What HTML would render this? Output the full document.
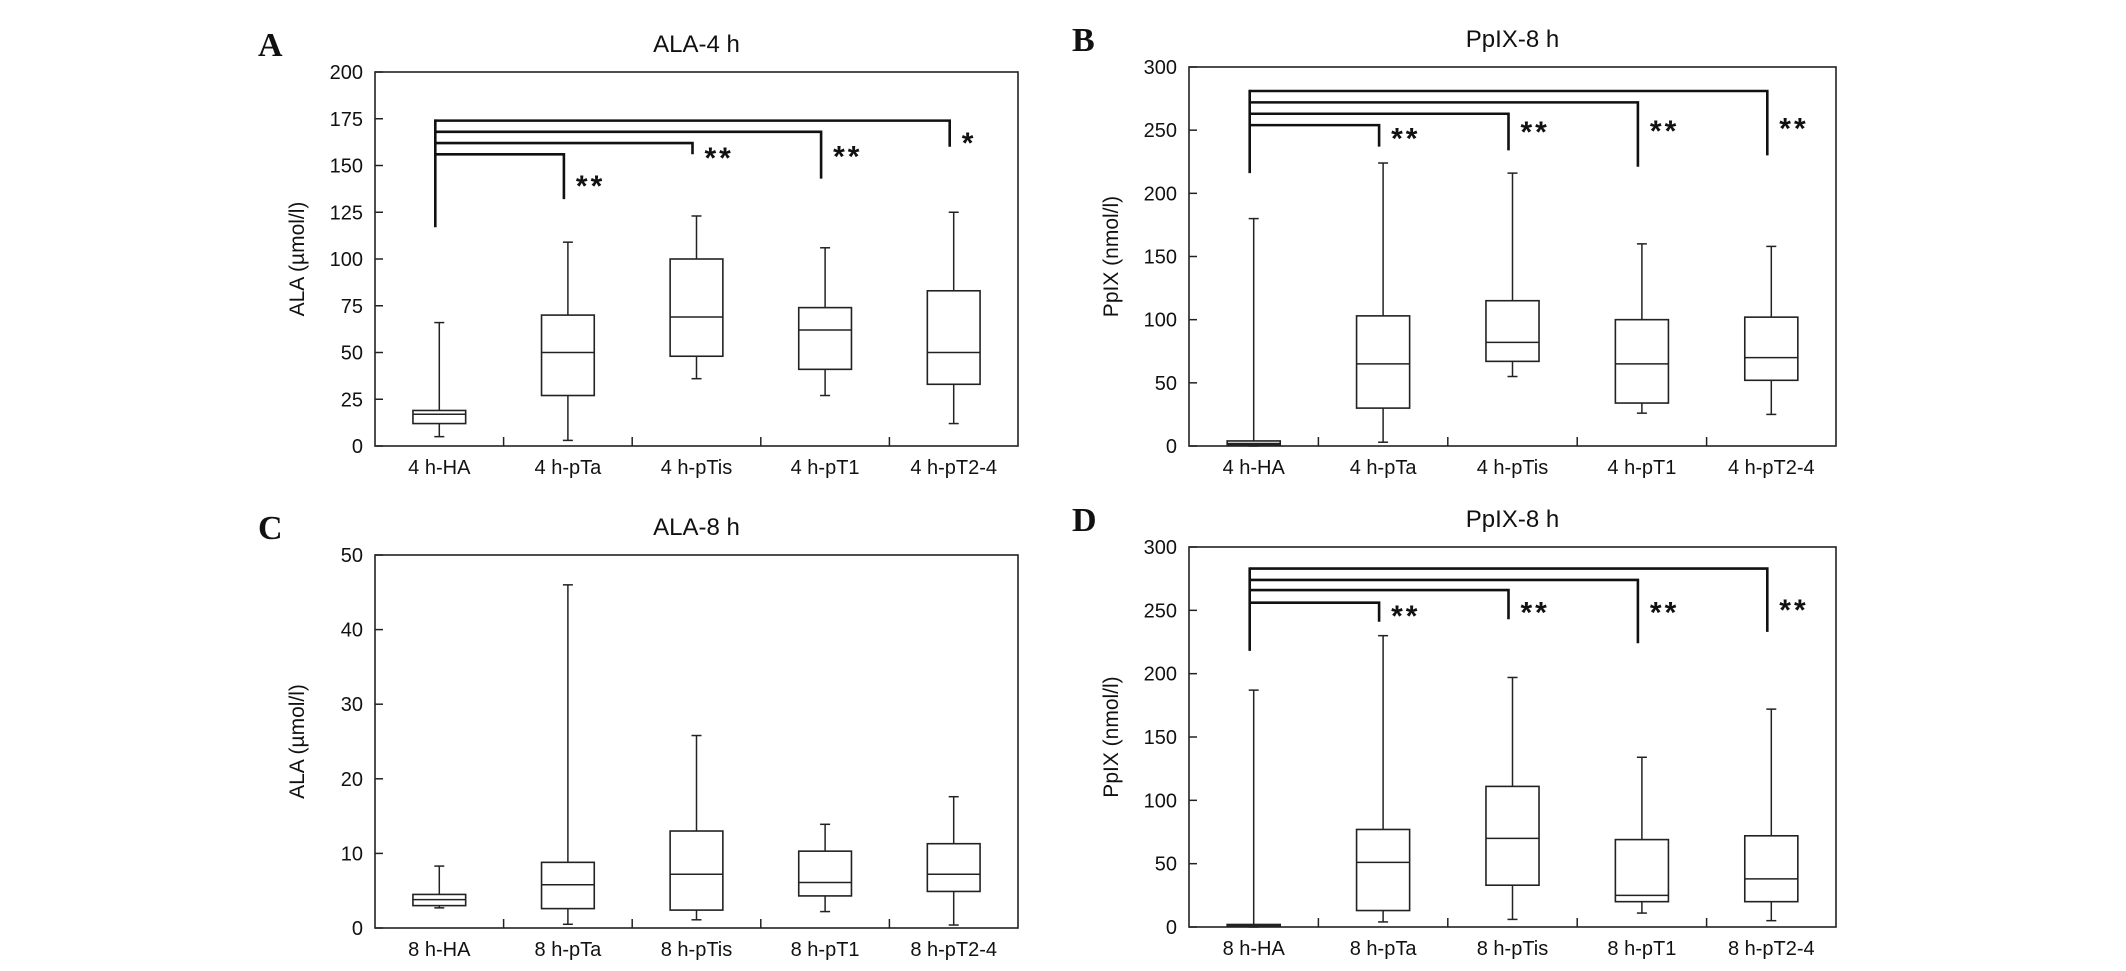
<!DOCTYPE html>
<html><head><meta charset="utf-8">
<style>
html,body{margin:0;padding:0;background:#fff;}
svg{display:block;}
text{font-family:"Liberation Sans",sans-serif;fill:#111;}
text.letter{font-family:"Liberation Serif",serif;}
</style></head>
<body>
<svg id="fig" width="2126" height="971" viewBox="0 0 2126 971" xmlns="http://www.w3.org/2000/svg"></svg>
<script>
// ---- data ----
const catsA = ["4 h-HA","4 h-pTa","4 h-pTis","4 h-pT1","4 h-pT2-4"];
const catsC = ["8 h-HA","8 h-pTa","8 h-pTis","8 h-pT1","8 h-pT2-4"];
// [min, q1, median, q3, max]
const statsA = [[5,12,17,19,66],[3,27,50,70,109],[36,48,69,100,123],[27,41,62,74,106],[12,33,50,83,125]];
const statsB = [[0,1,2,4,180],[3,30,65,103,224],[55,67,82,115,216],[26,34,65,100,160],[25,52,70,102,158]];
const statsC = [[2.7,3.0,3.8,4.5,8.3],[0.5,2.6,5.8,8.8,46],[1.1,2.4,7.2,13,25.8],[2.2,4.3,6.1,10.3,13.9],[0.4,4.9,7.2,11.3,17.6]];
const statsD = [[0,0.5,1,2,187],[4,13,51,77,230],[6,33,70,111,197],[11,20,25,69,134],[5,20,38,72,172]];
const ticksA = [0,25,50,75,100,125,150,175,200];
const ticksB = [0,50,100,150,200,250,300];
const ticksC = [0,10,20,30,40,50];
// brackets: [target category index, horizontal level, drop bottom, star level, label]
const sigA = [[1,156,132,140,"**"],[2,162,156,155,"**"],[3,168,143,156,"**"],[4,174,160,163,"*"]];
const sigB = [[1,254,237,245,"**"],[2,263,234,250,"**"],[3,272,221,251,"**"],[4,281,230,253,"**"]];
const sigD = [[1,256,241,247,"**"],[2,266,243,250,"**"],[3,274,224,250,"**"],[4,283,233,252,"**"]];
const bracketBottomA = 117, bracketBottomB = 216, bracketBottomD = 218;

const NS = "http://www.w3.org/2000/svg";
const svg = document.getElementById("fig");
function mk(tag, attrs, parent){
  const e = document.createElementNS(NS, tag);
  for (const k in attrs) e.setAttribute(k, attrs[k]);
  (parent||svg).appendChild(e);
  return e;
}

function panel(cfg){
  const g = mk("g", {});
  
  
  const {L,R,T,B,ymax,ticks,cats,stats,sig,bb} = cfg;
  const y = v => B - v/ymax*(B-T);
  const slot = (R-L)/cats.length;
  const x = i => L + slot*(i+0.5);
  const fr = mk("rect",{x:L,y:T,width:R-L,height:B-T,fill:"none",stroke:"#222","stroke-width":1.6},g);
  
  
  ticks.forEach(t=>{
    const ln = mk("line",{x1:L,x2:L+8,y1:y(t),y2:y(t),stroke:"#222","stroke-width":1.5},g);
    
    
    const tx = mk("text",{x:L-12,y:y(t)+7,"text-anchor":"end","font-size":20},g);
    tx.textContent = t;
    
    
  });
  for (let i=1;i<cats.length;i++){
    const ln = mk("line",{x1:L+slot*i,x2:L+slot*i,y1:B,y2:B-9,stroke:"#222","stroke-width":1.5},g);
    
    
  }
  cats.forEach((c,i)=>{
    const tx = mk("text",{x:x(i),y:B+28,"text-anchor":"middle","font-size":20},g);
    tx.textContent = c;
    
    
  });
  const bw = slot*0.41;
  stats.forEach((s,i)=>{
    const bg = mk("g",{},g);
    
    
    const cx = x(i);
    mk("line",{x1:cx,x2:cx,y1:y(s[0]),y2:y(s[1]),stroke:"#222","stroke-width":1.5},bg);
    mk("line",{x1:cx,x2:cx,y1:y(s[3]),y2:y(s[4]),stroke:"#222","stroke-width":1.5},bg);
    mk("line",{x1:cx-5,x2:cx+5,y1:y(s[0]),y2:y(s[0]),stroke:"#222","stroke-width":1.5},bg);
    mk("line",{x1:cx-5,x2:cx+5,y1:y(s[4]),y2:y(s[4]),stroke:"#222","stroke-width":1.5},bg);
    mk("rect",{x:cx-bw/2,y:y(s[3]),width:bw,height:Math.max(1,y(s[1])-y(s[3])),fill:"#fff",stroke:"#222","stroke-width":1.6},bg);
    mk("line",{x1:cx-bw/2,x2:cx+bw/2,y1:y(s[2]),y2:y(s[2]),stroke:"#222","stroke-width":1.5},bg);
  });
  if (sig){
    const x0 = x(0)-4;
    const topLvl = Math.max(...sig.map(s=>s[1]));
    const vl = mk("line",{x1:x0,x2:x0,y1:y(topLvl)-1.2,y2:y(bb),stroke:"#111","stroke-width":2.6},g);
    
    
    sig.forEach(s=>{
      const xd = x(s[0])-4;
      const p = mk("polyline",{points:`${x0},${y(s[1])} ${xd},${y(s[1])} ${xd},${y(s[2])}`,fill:"none",stroke:"#111","stroke-width":2.6},g);
      
      
      const st = mk("text",{x:xd+12,y:y(s[3])+12,"font-size":30,"font-weight":"bold","letter-spacing":"3"},g);
      st.textContent = s[4];
      
      
    });
  }
  const tt = mk("text",{x:(L+R)/2,y:T-20,"text-anchor":"middle","font-size":24},g);
  tt.textContent = cfg.title;
  
  
  const yt = mk("text",{x:0,y:0,"text-anchor":"middle","font-size":21,transform:`translate(${cfg.ytx},${(T+B)/2}) rotate(-90)`},g);
  yt.textContent = cfg.ytitle;
  
  
  const lt = mk("text",{x:cfg.lx,y:T-16,"font-size":34,"font-weight":"bold","class":"letter"},g);
  lt.textContent = cfg.letter;
  
  
}

panel({name:"panel-a",L:375,R:1018,T:72,B:446,ymax:200,ticks:ticksA,cats:catsA,stats:statsA,sig:sigA,bb:bracketBottomA,title:"ALA-4 h",ytitle:"ALA (µmol/l)",ytx:304,lx:258,letter:"A"});
panel({name:"panel-b",L:1189,R:1836,T:67,B:446,ymax:300,ticks:ticksB,cats:catsA,stats:statsB,sig:sigB,bb:bracketBottomB,title:"PpIX-8 h",ytitle:"PpIX (nmol/l)",ytx:1118,lx:1072,letter:"B"});
panel({name:"panel-c",L:375,R:1018,T:555,B:928,ymax:50,ticks:ticksC,cats:catsC,stats:statsC,sig:null,bb:0,title:"ALA-8 h",ytitle:"ALA (µmol/l)",ytx:304,lx:258,letter:"C"});
panel({name:"panel-d",L:1189,R:1836,T:547,B:927,ymax:300,ticks:ticksB,cats:catsC,stats:statsD,sig:sigD,bb:bracketBottomD,title:"PpIX-8 h",ytitle:"PpIX (nmol/l)",ytx:1118,lx:1072,letter:"D"});
</script>
</body></html>
